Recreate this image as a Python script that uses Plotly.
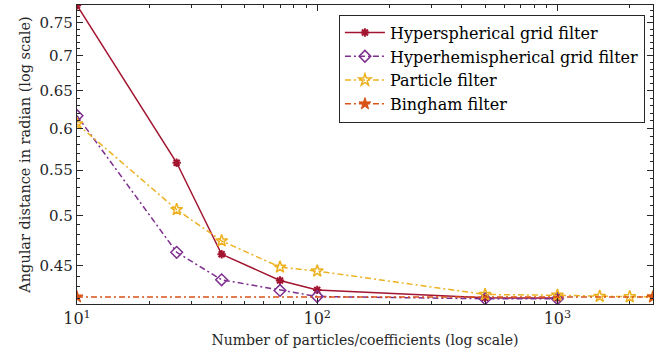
import plotly.graph_objects as go
import numpy as np

# ---- data ----
x_hs = [10, 26, 40, 70, 100, 500, 1000]
y_hs = [0.778, 0.5585, 0.4606, 0.4359, 0.4273, 0.4202, 0.4201]

x_hh = [10, 26, 40, 70, 100, 500, 1000]
y_hh = [0.6166, 0.4625, 0.4365, 0.4268, 0.4214, 0.4194, 0.4194]

x_pf = [10, 26, 40, 70, 100, 500, 1000, 1500, 2000, 2500]
y_pf = [0.6062, 0.5060, 0.4738, 0.4483, 0.4446, 0.4232, 0.4225, 0.4215, 0.4212, 0.4211]

x_bf = [10, 2500]
y_bf = [0.4210, 0.4210]

names = ["Hyperspherical grid filter", "Hyperhemispherical grid filter",
         "Particle filter", "Bingham filter"]

x_tickvals = [10, 100, 1000]
x_ticktext = ["10<sup>1</sup>", "10<sup>2</sup>", "10<sup>3</sup>"]
y_tickvals = [0.45, 0.5, 0.55, 0.6, 0.65, 0.7, 0.75]
y_ticktext = ["0.45", "0.5", "0.55", "0.6", "0.65", "0.7", "0.75"]

x_range = [10, 2500]
y_range = [0.4148, 0.7786]

FONT = "DejaVu Serif"
AX = "#262626"

fig = go.Figure()
fig.add_trace(go.Scatter(x=x_hs, y=y_hs, name=names[0], mode="lines+markers",
                         line=dict(color="#A2142F", width=1.5),
                         marker=dict(symbol="asterisk-open", size=7,
                                     line=dict(color="#A2142F", width=2))))
fig.add_trace(go.Scatter(x=x_hh, y=y_hh, name=names[1], mode="lines+markers",
                         line=dict(color="#7E2F8E", width=1.5, dash="6px,3px,2px,3px"),
                         marker=dict(symbol="diamond-open", size=9,
                                     line=dict(color="#7E2F8E", width=1.5))))
fig.add_trace(go.Scatter(x=x_pf, y=y_pf, name=names[2], mode="lines+markers",
                         line=dict(color="#EDB120", width=1.5, dash="6px,3px,2px,3px"),
                         marker=dict(symbol="star-open", size=9,
                                     line=dict(color="#EDB120", width=1.5))))
fig.add_trace(go.Scatter(x=x_bf, y=y_bf, name=names[3], mode="lines+markers",
                         line=dict(color="#D95319", width=1.5, dash="6px,3px,2px,3px"),
                         marker=dict(symbol="star", size=9, color="#D95319",
                                     line=dict(color="#D95319", width=1))))

minor_x = [v * d for d in (10, 100, 1000) for v in range(2, 10) if v * d <= 2500]
minor_y = [round(0.41 + 0.01 * i, 2) for i in range(0, 38)]

fig.update_xaxes(type="log", range=[np.log10(x_range[0]), np.log10(x_range[1])],
                 tickmode="array", tickvals=x_tickvals, ticktext=x_ticktext,
                 ticks="inside", ticklen=6, tickwidth=1, tickcolor=AX,
                 minor=dict(tickmode="array", tickvals=minor_x, ticks="inside",
                            ticklen=3, tickcolor=AX, showgrid=False),
                 showline=True, linecolor=AX, linewidth=1.2, mirror="allticks",
                 showgrid=False, zeroline=False,
                 tickfont=dict(family=FONT, size=16, color=AX),
                 title=dict(text="Number of particles/coefficients (log scale)",
                            font=dict(family=FONT, size=14, color=AX), standoff=7))
fig.update_yaxes(type="log", range=[np.log10(y_range[0]), np.log10(y_range[1])],
                 tickmode="array", tickvals=y_tickvals, ticktext=y_ticktext,
                 ticks="inside", ticklen=6, tickwidth=1, tickcolor=AX,
                 minor=dict(tickmode="array", tickvals=minor_y, ticks="inside",
                            ticklen=3, tickcolor=AX, showgrid=False),
                 showline=True, linecolor=AX, linewidth=1.2, mirror="allticks",
                 showgrid=False, zeroline=False,
                 tickfont=dict(family=FONT, size=15, color=AX),
                 title=dict(text="Angular distance in radian (log scale)",
                            font=dict(family=FONT, size=14.5, color=AX), standoff=5))

fig.update_layout(width=667, height=362,
                  font=dict(family=FONT, color=AX),
                  margin=dict(l=77, r=14, t=5, b=58),
                  paper_bgcolor="white", plot_bgcolor="white",
                  legend=dict(x=0.986, y=0.968, xanchor="right", yanchor="top",
                              bgcolor="white", bordercolor=AX, borderwidth=1,
                              font=dict(family=FONT, size=16, color="black"),
                              itemwidth=40, tracegroupgap=0),
                  showlegend=True)

fig.write_html("out.html")
